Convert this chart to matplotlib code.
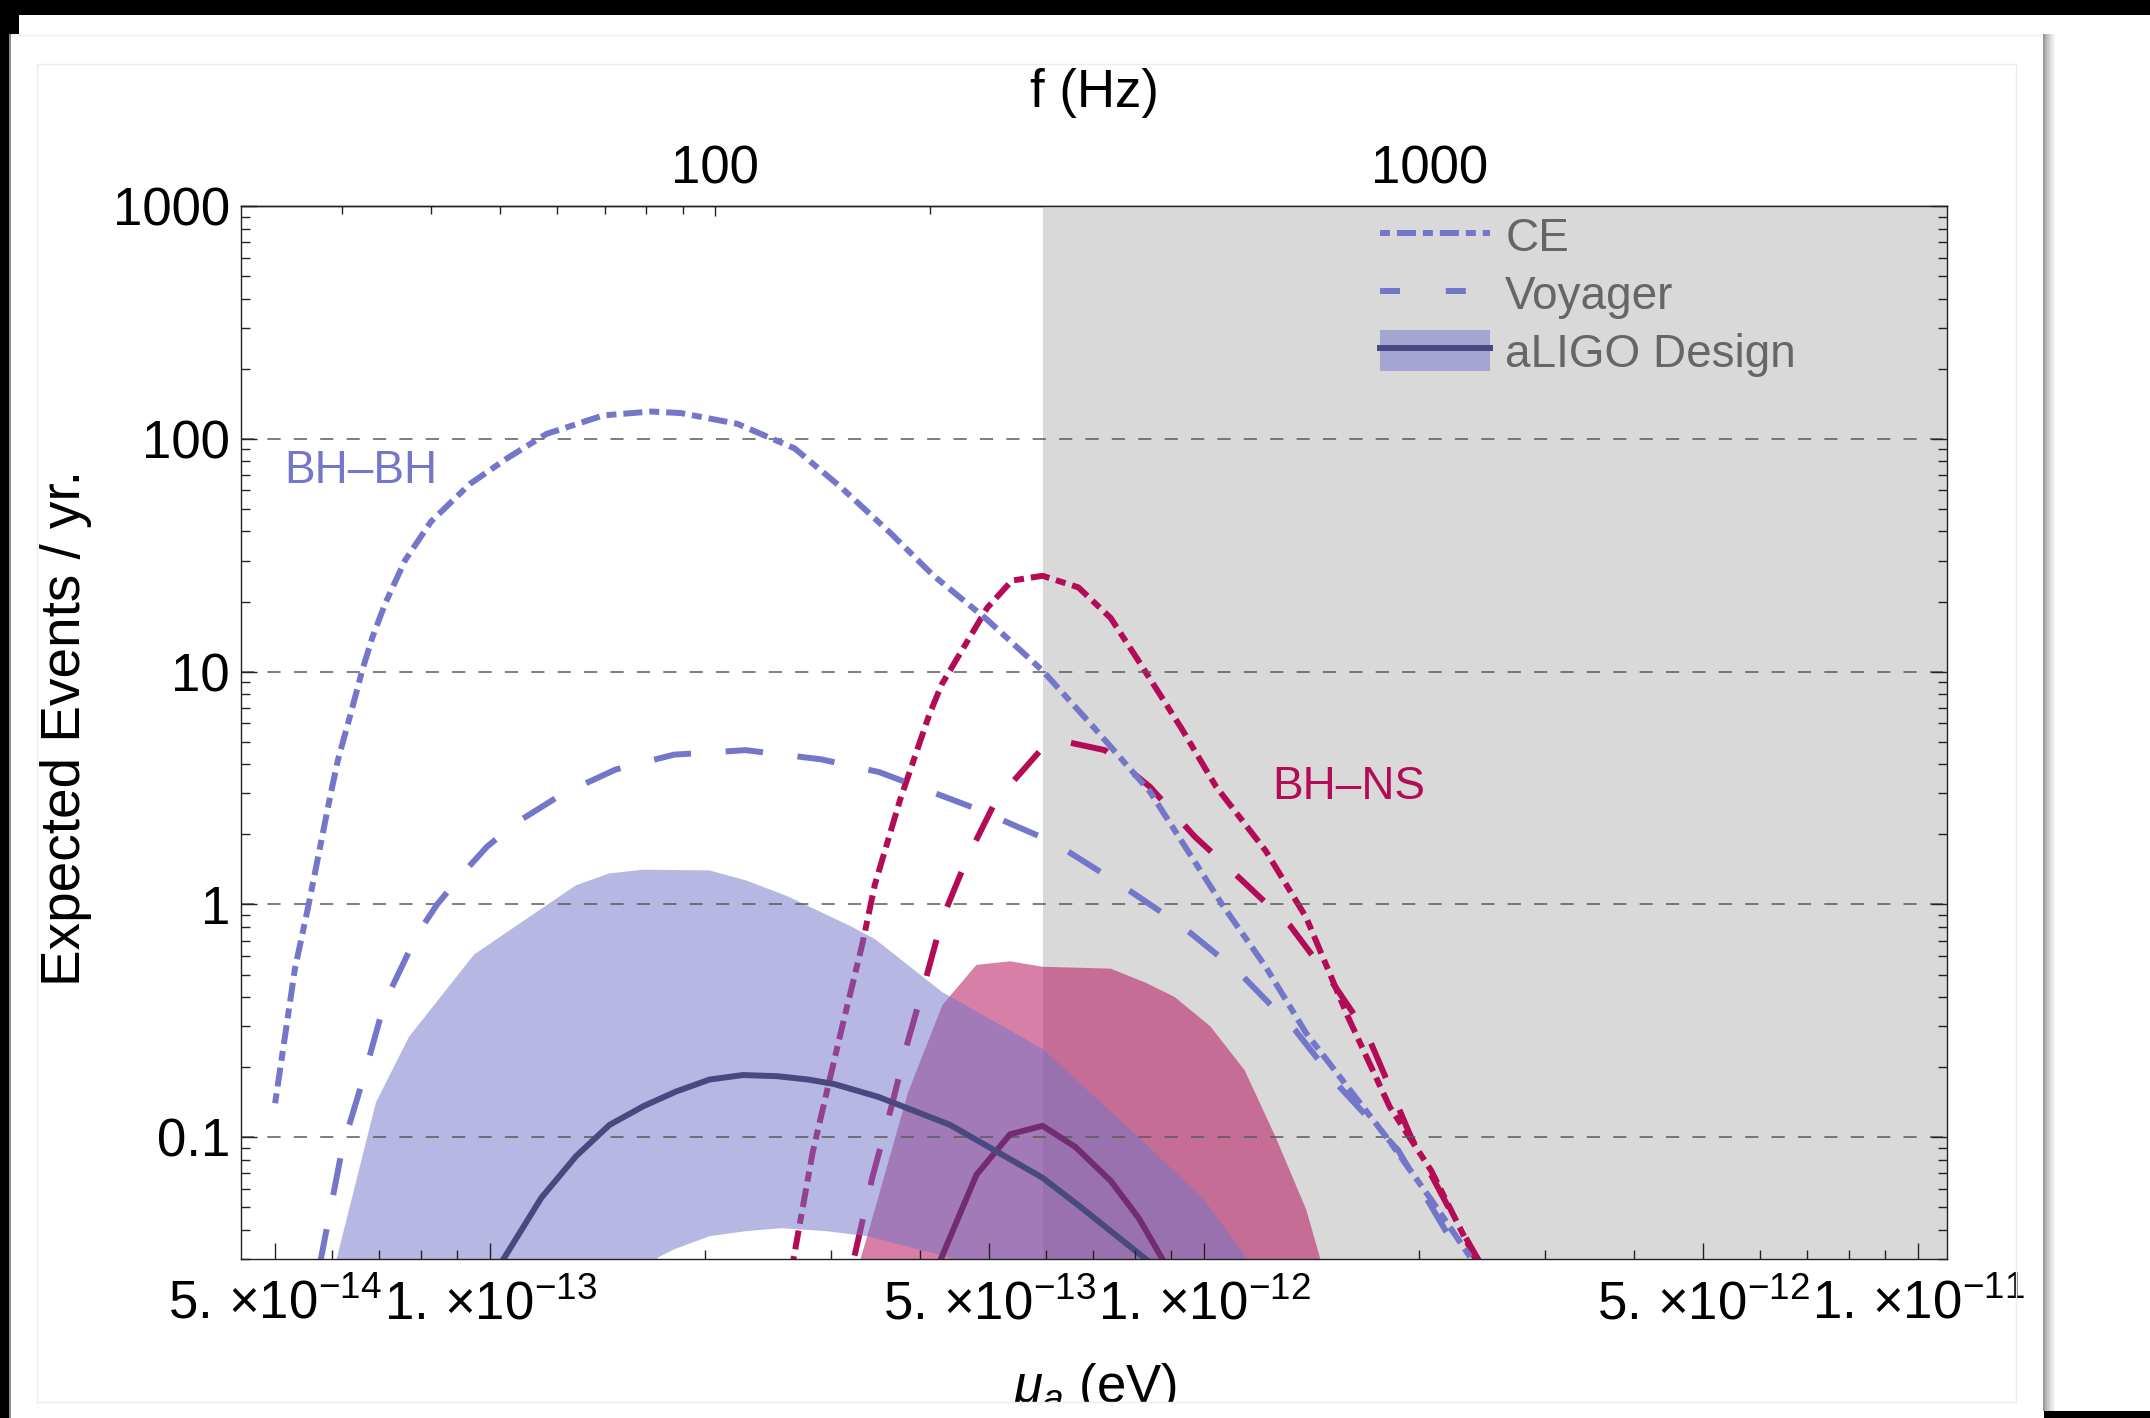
import numpy as np
import matplotlib
matplotlib.use('Agg')
import matplotlib.pyplot as plt
from matplotlib.patches import Rectangle, Patch
from matplotlib.lines import Line2D
from matplotlib.ticker import FixedLocator, FixedFormatter, NullFormatter

plt.rcParams['font.family'] = 'Liberation Sans'
plt.rcParams['mathtext.fontset'] = 'custom'
plt.rcParams['mathtext.rm'] = 'Liberation Sans'
plt.rcParams['mathtext.it'] = 'Liberation Sans:italic'
plt.rcParams['lines.scale_dashes'] = False

# ---------------------------------------------------------------------------
# data (boson mass in eV, expected events per year)

ce_bb_m = [5.0e-14, 5.33e-14, 5.56e-14, 5.97e-14, 6.12e-14, 6.38e-14, 6.62e-14, 6.84e-14,
           7.13e-14, 7.6e-14, 8.26e-14, 9.37e-14, 1.06e-13, 1.2e-13, 1.44e-13, 1.68e-13,
           1.85e-13, 2.22e-13, 2.67e-13, 3.1e-13, 3.65e-13, 4.17e-13, 4.97e-13, 5.94e-13,
           7.03e-13, 8.4e-13, 1.06e-12, 1.22e-12, 1.39e-12, 1.59e-12, 1.82e-12, 2.08e-12, 2.37e-12]
ce_bb_n = [0.14, 0.53, 0.97, 2.9, 4.15, 6.6, 10.1, 14,
           19.6, 30, 44, 64, 83, 105, 126, 131,
           129, 116, 91, 62, 39, 26, 16.7, 10.1,
           5.7, 3.05, 1.0, 0.54, 0.28, 0.164, 0.096, 0.054, 0.03]

voy_bb_m = [5.77e-14, 6.21e-14, 6.67e-14, 7.11e-14, 7.9e-14, 8.43e-14, 9.14e-14, 9.9e-14,
            1.09e-13, 1.26e-13, 1.5e-13, 1.81e-13, 2.28e-13, 2.91e-13, 3.51e-13, 4.76e-13,
            6.15e-13, 7.6e-13, 9.3e-13, 1.12e-12, 1.34e-12, 1.55e-12, 1.87e-12, 2.3e-12]
voy_bb_n = [0.028, 0.09, 0.186, 0.376, 0.74, 1.0, 1.35, 1.77,
            2.25, 2.97, 3.8, 4.4, 4.6, 4.2, 3.7, 2.6,
            1.85, 1.23, 0.81, 0.51, 0.29, 0.164, 0.088, 0.03]

ligo_bb_m = [1.03e-13, 1.18e-13, 1.32e-13, 1.47e-13, 1.64e-13, 1.82e-13, 2.03e-13, 2.26e-13,
             2.52e-13, 2.79e-13, 3.04e-13, 3.5e-13, 4.41e-13, 5.94e-13, 6.67e-13, 8.4e-13]
ligo_bb_n = [0.028, 0.055, 0.083, 0.113, 0.136, 0.157, 0.177, 0.185,
             0.183, 0.177, 0.169, 0.149, 0.113, 0.067, 0.051, 0.029]

ligo_bb_band_m = [6.08e-14, 6.92e-14, 7.7e-14, 9.5e-14, 1.32e-13, 1.47e-13, 1.64e-13, 2.03e-13,
                  2.28e-13, 2.6e-13, 3.19e-13, 3.46e-13, 4.3e-13, 5.94e-13, 8.1e-13, 1.0e-12, 1.16e-12]
ligo_bb_band_hi = [0.029, 0.141, 0.27, 0.61, 1.21, 1.36, 1.41, 1.4,
                   1.27, 1.09, 0.81, 0.71, 0.42, 0.24, 0.1, 0.054, 0.029]
ligo_bb_band_lo_m = [1.16e-12, 4.8e-13, 4.4e-13, 3.37e-13, 2.96e-13, 2.56e-13, 2.28e-13,
                     2.03e-13, 1.81e-13, 1.72e-13, 1.64e-13, 6.08e-14]
ligo_bb_band_lo = [0.02, 0.025, 0.0305, 0.0376, 0.0395, 0.0407, 0.0395,
                   0.0376, 0.033, 0.0305, 0.024, 0.02]

ce_ns_m = [2.65e-13, 2.83e-13, 2.99e-13, 3.13e-13, 3.32e-13, 3.46e-13, 3.75e-13, 4.12e-13,
           4.29e-13, 4.97e-13, 5.38e-13, 5.94e-13, 6.67e-13, 7.4e-13, 8.1e-13, 9.3e-13,
           1.04e-12, 1.22e-12, 1.39e-12, 1.59e-12, 1.82e-12, 2.08e-12, 2.4e-12]
ce_ns_n = [0.028, 0.086, 0.177, 0.32, 0.67, 1.22, 2.8, 6.5,
           8.8, 18.8, 24.6, 25.8, 23, 17, 11.1, 5.7,
           3.2, 1.7, 0.88, 0.33, 0.135, 0.072, 0.03]

voy_ns_m = [3.24e-13, 3.43e-13, 3.66e-13, 3.85e-13, 4.07e-13, 4.3e-13, 4.65e-13, 5.1e-13,
            5.94e-13, 6.4e-13, 7.26e-13, 8.4e-13, 9.7e-13, 1.13e-12, 1.32e-12, 1.5e-12,
            1.69e-12, 1.95e-12, 2.2e-12, 2.45e-12]
voy_ns_n = [0.031, 0.067, 0.14, 0.26, 0.47, 0.87, 1.56, 2.76,
            4.7, 5.0, 4.6, 3.2, 1.96, 1.27, 0.81, 0.48,
            0.28, 0.1, 0.05, 0.028]

ligo_ns_m = [4.26e-13, 4.8e-13, 5.35e-13, 5.94e-13, 6.6e-13, 7.4e-13, 8.1e-13, 8.8e-13]
ligo_ns_n = [0.029, 0.069, 0.103, 0.112, 0.091, 0.065, 0.045, 0.029]

ligo_ns_band_m = [3.28e-13, 3.37e-13, 3.85e-13, 4.3e-13, 4.8e-13, 5.35e-13, 5.94e-13, 7.4e-13,
                  8.3e-13, 9.1e-13, 1.02e-12, 1.14e-12, 1.26e-12, 1.39e-12, 1.46e-12]
ligo_ns_band_hi = [0.028, 0.037, 0.156, 0.37, 0.55, 0.57, 0.54, 0.53,
                   0.46, 0.4, 0.3, 0.194, 0.1, 0.049, 0.029]
ligo_ns_band_lo_m = [1.46e-12, 3.28e-13]
ligo_ns_band_lo = [0.01, 0.01]

gray_start = 5.94e-13          # excluded region (eV)
grid_levels = [0.1, 1, 10, 100]

x_major = [5e-14, 1e-13, 5e-13, 1e-12, 5e-12, 1e-11]
x_major_labels = [r'$5.\,{\times}10^{-14}$', r'$1.\,{\times}10^{-13}$', r'$5.\,{\times}10^{-13}$',
                  r'$1.\,{\times}10^{-12}$', r'$5.\,{\times}10^{-12}$', r'$1.\,{\times}10^{-11}$']
y_major = [0.1, 1, 10, 100, 1000]
y_major_labels = ['0.1', '1', '10', '100', '1000']
f_major = [100, 1000]
f_minor = [30, 40, 50, 60, 70, 80, 90, 200, 300, 400, 500, 600, 700, 800, 900,
           2000, 3000, 4000, 5000]

h_ev = 4.135667e-15   # Planck constant, eV s


def m2f(m):
    return 2 * np.asarray(m) / h_ev


def f2m(f):
    return np.asarray(f) * h_ev / 2


# ---------------------------------------------------------------------------
# styles

c_bb = '#7476c9'
c_ns = '#b30b56'
c_bb_dark = '#47497f'
c_ns_dark = '#722c70'
band_alpha = 0.52
lw = 4.3
ls_ce = (0, (7.2, 5, 13.7, 5))
ls_voy = (0, (27, 25))
tick_fs = 38

W, H = 2150, 1418
fig = plt.figure(figsize=(W / 100, H / 100), dpi=100)
fig.patch.set_facecolor('white')


def px_rect(x0, y0, x1, y1, color, z=10, **kw):
    r = Rectangle((x0 / W, 1 - y1 / H), (x1 - x0) / W, (y1 - y0) / H,
                  transform=fig.transFigure, facecolor=color, edgecolor='none',
                  zorder=z, **kw)
    fig.add_artist(r)
    return r


ax = fig.add_axes([241 / W, 1 - 1259 / H, 1706 / W, 1053 / H])
ax.set_xscale('log')
ax.set_yscale('log')
ax.set_xlim(4.479e-14, 1.098e-11)
ax.set_ylim(0.03, 1000)

# excluded region
ax.axvspan(gray_start, ax.get_xlim()[1], color='#d9d9d9', lw=0, zorder=0.1)

# BH-NS band and projection curves (under the BH-BH band)
ax.fill(list(ligo_ns_band_m) + list(ligo_ns_band_lo_m),
        list(ligo_ns_band_hi) + list(ligo_ns_band_lo),
        color=c_ns, alpha=band_alpha, lw=0, zorder=0.2)
ax.plot(ce_ns_m, ce_ns_n, color=c_ns, lw=lw, ls=ls_ce, zorder=0.3)
ax.plot(voy_ns_m, voy_ns_n, color=c_ns, lw=lw, ls=ls_voy, zorder=0.3)

# BH-BH band
ax.fill(list(ligo_bb_band_m) + list(ligo_bb_band_lo_m),
        list(ligo_bb_band_hi) + list(ligo_bb_band_lo),
        color=c_bb, alpha=band_alpha, lw=0, zorder=0.6)

for g in grid_levels:
    ax.axhline(g, color='#5a5a5a', lw=1.1, ls=(0, (9.5, 9.5)), zorder=0.7)

ax.plot(ligo_ns_m, ligo_ns_n, color=c_ns_dark, lw=lw, zorder=0.8)
ax.plot(ce_bb_m, ce_bb_n, color=c_bb, lw=lw, ls=ls_ce, zorder=0.8)
ax.plot(voy_bb_m, voy_bb_n, color=c_bb, lw=lw, ls=ls_voy, zorder=0.8)
ax.plot(ligo_bb_m, ligo_bb_n, color=c_bb_dark, lw=lw, zorder=0.8)

# ticks
ax.xaxis.set_major_locator(FixedLocator(x_major))
ax.xaxis.set_major_formatter(FixedFormatter(x_major_labels))
ax.xaxis.set_minor_formatter(NullFormatter())
ax.yaxis.set_major_locator(FixedLocator(y_major))
ax.yaxis.set_major_formatter(FixedFormatter(y_major_labels))
ax.yaxis.set_minor_formatter(NullFormatter())
ax.tick_params(which='both', direction='in', top=False, right=True, width=1.0,
               color='#222222', labelsize=tick_fs)
ax.tick_params(which='major', length=11.5)
ax.tick_params(which='minor', length=6.5)
ax.tick_params(axis='x', pad=15)
ax.tick_params(axis='y', pad=8)
for s in ax.spines.values():
    s.set_linewidth(1.0)
    s.set_color('#222222')

sec = ax.secondary_xaxis('top', functions=(m2f, f2m))
sec.xaxis.set_major_locator(FixedLocator(f_major))
sec.xaxis.set_major_formatter(FixedFormatter(['100', '1000']))
sec.xaxis.set_minor_locator(FixedLocator(f_minor))
sec.xaxis.set_minor_formatter(NullFormatter())
sec.tick_params(which='both', direction='in', width=1.0, color='#222222', labelsize=tick_fs, pad=8)
sec.tick_params(which='major', length=7)
sec.tick_params(which='minor', length=6)
sec.spines['top'].set_linewidth(1.0)

# labels
ax.text(5.15e-14, 73, 'BH\u2013BH', color=c_bb, fontsize=33, ha='left', va='center', zorder=3)
ax.text(1.245e-12, 3.2, 'BH\u2013NS', color=c_ns, fontsize=33, ha='left', va='center', zorder=3)

fig.text(66 / W, 1 - 728 / H, 'Expected Events / yr.', rotation=90, ha='center', va='center',
         fontsize=39.5)
fig.text(1094 / W, 1 - 107 / H, 'f (Hz)', ha='center', va='baseline', fontsize=38)
fig.text(1094 / W, 1 - 1402 / H, r'$\mu_a$ (eV)', ha='center', va='baseline', fontsize=38)

handles = [Line2D([], [], color=c_bb, lw=lw, ls=ls_ce),
           Line2D([], [], color=c_bb, lw=lw, ls=(0, (14.4, 33))),
           (Patch(facecolor=c_bb, alpha=band_alpha, lw=0), Line2D([], [], color=c_bb_dark, lw=lw))]
ax.legend(handles, ['CE', 'Voyager', 'aLIGO Design'], loc='upper left',
          bbox_to_anchor=((1380 - 241) / 1706, 1 - (215 - 206) / 1053), frameon=False,
          fontsize=33, labelcolor='#666666', handlelength=2.4, handleheight=1.0,
          handletextpad=0.33, labelspacing=0.25, borderpad=0, borderaxespad=0)

# page frame around the card
px_rect(37, 1403, 2043, 1418, 'white', z=20)
fig.add_artist(Rectangle((37 / W, 1 - 1402 / H), (2016 - 37) / W, (1402 - 64) / H,
                         transform=fig.transFigure, facecolor='none', edgecolor='#ececec',
                         lw=1.0, zorder=21))
for i, c in enumerate(['#9a9a9a', '#b4b4b4', '#c8c8c8', '#d8d8d8', '#e6e6e6', '#f2f2f2']):
    px_rect(2043 + 2 * i, 34, 2045 + 2 * i, 1411, c, z=22)
px_rect(10, 34, 2043, 37, '#f6f6f6', z=22)
px_rect(0, 0, W, 15, 'black', z=30)
px_rect(0, 0, 19, 34, 'black', z=30)
px_rect(0, 0, 9, H, 'black', z=30)
px_rect(9, 34, 11, H, '#8a8a8a', z=30)
px_rect(2044, 1411, W, H, 'black', z=30)

fig.savefig('out.png', dpi=100)
